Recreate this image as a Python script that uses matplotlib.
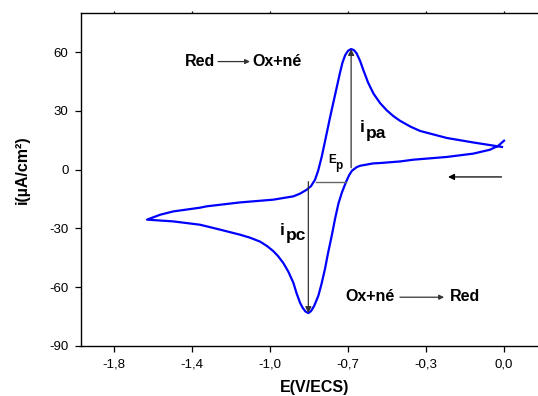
import matplotlib

matplotlib.use("Agg")
import matplotlib.pyplot as plt
import numpy as np

# cathodic sweep: 0 V -> -1.6 V
e_forward = [0.000, -0.026, -0.063, -0.138, -0.257, -0.407, -0.467, -0.556, -0.588,
             -0.646, -0.661, -0.682, -0.695, -0.709, -0.727, -0.743, -0.758, -0.773,
             -0.790, -0.803, -0.819, -0.833, -0.852, -0.866, -0.878, -0.891, -0.904,
             -0.915, -0.931, -0.945, -0.968, -0.990, -1.014, -1.035, -1.063, -1.095,
             -1.140, -1.184, -1.274, -1.364, -1.484, -1.602]
i_forward = [14.8, 12.2, 10.2, 8.2, 6.5, 5.1, 4.2, 3.4, 3.2,
             2.0, 1.3, -0.5, -2.8, -6.3, -11.5, -17.3, -25.0, -33.7,
             -42.8, -50.5, -58.4, -64.3, -69.6, -72.2, -73.2, -72.4, -70.4,
             -68.0, -63.0, -57.8, -52.0, -47.7, -44.1, -41.6, -39.0, -36.7,
             -34.7, -33.2, -30.6, -28.1, -26.4, -25.5]

# anodic sweep: -1.6 V -> 0 V
e_return = [-1.602, -1.543, -1.484, -1.364, -1.334, -1.184, -1.035, -0.945, -0.915,
            -0.885, -0.866, -0.848, -0.834, -0.818, -0.795, -0.781, -0.766, -0.751,
            -0.736, -0.725, -0.713, -0.700, -0.686, -0.673, -0.661, -0.646, -0.631,
            -0.610, -0.586, -0.556, -0.526, -0.497, -0.467, -0.420, -0.377, -0.257,
            -0.138, -0.026, -0.009]
i_return = [-25.5, -23.0, -21.3, -19.4, -18.7, -16.7, -15.3, -13.6, -12.2,
            -10.2, -8.4, -5.1, -0.5, 6.6, 18.9, 26.5, 34.2, 41.8,
            49.5, 54.6, 58.4, 60.7, 61.6, 61.0, 59.3, 55.6, 50.8,
            44.5, 38.9, 34.0, 30.3, 27.4, 25.0, 22.0, 19.8, 16.2,
            13.9, 11.9, 11.6]

x_ticks = [-1.75, -1.40, -1.05, -0.70, -0.35, 0.0]
x_tick_labels = ["-1,8", "-1,4", "-1,0", "-0,7", "-0,3", "0,0"]
y_ticks = [-90, -60, -30, 0, 30, 60]

ipa_base = 1.0
ipc_base = -6.1
ep_left, ep_right = -0.843, -0.709

plt.rcParams["font.family"] = ["Liberation Sans", "DejaVu Sans"]
plt.rcParams["axes.unicode_minus"] = False

fig = plt.figure(figsize=(5.38, 3.96), dpi=100)
ax = fig.add_axes([0.1506, 0.1263, 0.8494, 0.8409])

e_all = np.array(e_forward + e_return)
i_all = np.array(i_forward + i_return)
ax.plot(e_all, i_all, color="#0000ff", lw=1.6, solid_joinstyle="round")

# peak arrows
k_pa = int(np.argmax(i_return))
k_pc = int(np.argmin(i_forward))
arrow = dict(arrowstyle="-|>", color="#333333", lw=0.9, mutation_scale=9,
             shrinkA=0, shrinkB=0)
ax.annotate("", xy=(e_return[k_pa], i_return[k_pa]), xytext=(e_return[k_pa], ipa_base),
            arrowprops=arrow)
ax.annotate("", xy=(e_forward[k_pc], i_forward[k_pc]), xytext=(e_forward[k_pc], ipc_base),
            arrowprops=arrow)
ax.plot([ep_left, ep_right], [ipc_base, ipc_base], color="#666666", lw=1.0)

bold = dict(fontweight="bold", color="black")
ax.text(-0.646, 19.4, "i", fontsize=12.5, **bold)
ax.text(-0.619, 16.4, "pa", fontsize=12.5, **bold)
ax.text(-1.005, -33.2, "i", fontsize=12.5, **bold)
ax.text(-0.978, -36.1, "pc", fontsize=12.5, **bold)
ax.text(-0.790, 3.4, "E", fontsize=8.5, **bold)
ax.text(-0.758, 0.4, "p", fontsize=8.5, **bold)

small_arrow = dict(arrowstyle="-|>", color="#333333", lw=0.9, mutation_scale=7,
                   shrinkA=0, shrinkB=0)
ax.text(-1.431, 52.7, "Red", fontsize=11.5, **bold)
ax.annotate("", xy=(-1.140, 55.2), xytext=(-1.283, 55.2), arrowprops=small_arrow)
ax.text(-1.131, 52.7, "Ox+né", fontsize=11.5, **bold)

ax.text(-0.713, -67.2, "Ox+né", fontsize=11.5, **bold)
ax.annotate("", xy=(-0.269, -65.1), xytext=(-0.467, -65.1), arrowprops=small_arrow)
ax.text(-0.242, -67.2, "Red", fontsize=11.5, **bold)

# sweep direction
ax.annotate("", xy=(-0.251, -3.7), xytext=(-0.011, -3.7),
            arrowprops=dict(arrowstyle="-|>", color="black", lw=0.9, mutation_scale=9,
                            shrinkA=0, shrinkB=0))

ax.set_xlim(-1.898, 0.1525)
ax.set_ylim(-90, 80)
ax.set_xticks(x_ticks, x_tick_labels)
ax.set_yticks(y_ticks)
ax.tick_params(axis="both", direction="out", length=4, width=0.9, labelsize=9.5, pad=5)
ax.tick_params(axis="x", which="major", top=True, labeltop=False)
ax.xaxis.set_tick_params(which="major", length=4)
for t in ax.xaxis.get_major_ticks():
    t.tick2line.set_markersize(1.5)
for side in ["left", "bottom", "top"]:
    ax.spines[side].set_linewidth(1.0)
ax.spines["right"].set_visible(False)

ax.set_xlabel("E(V/ECS)", fontsize=11.5, fontweight="bold")
ax.set_ylabel("i(µA/cm²)", fontsize=11.5, fontweight="bold")
ax.xaxis.set_label_coords(0.512, -0.103)
ax.yaxis.set_label_coords(-0.113, 0.528)

fig.savefig("out.png", dpi=100)
plt.close(fig)
